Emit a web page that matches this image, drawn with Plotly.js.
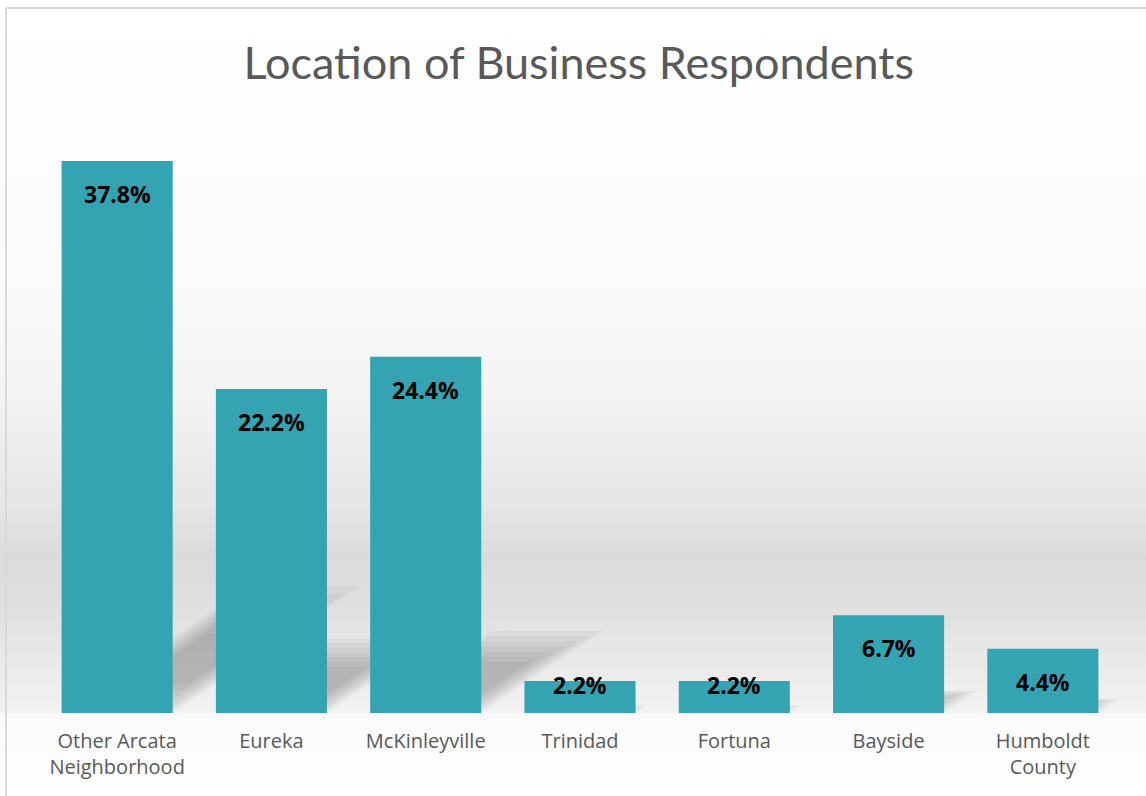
<!DOCTYPE html>
<html>
<head>
<meta charset="utf-8">
<script src="https://cdn.plot.ly/plotly-3.0.1.min.js"></script>
<style>
html,body{margin:0;padding:0;background:#fff;}
#chart{width:1146px;height:796px;}
</style>
</head>
<body>
<div id="chart"></div>
<script>
var categories = ["Other Arcata<br>Neighborhood", "Eureka", "McKinleyville", "Trinidad", "Fortuna", "Bayside", "Humboldt<br>County"];
var values = [37.8, 22.2, 24.4, 2.2, 2.2, 6.7, 4.4];
var labels = ["37.8%", "22.2%", "24.4%", "2.2%", "2.2%", "6.7%", "4.4%"];
var chartTitle = "Location of Business Respondents";

var positions = categories.map(function (c, i) { return i; });
var YMAX = 40;
var PLOT_H = 584, PLOT_W = 1080;
var pxPerUnit = PLOT_H / YMAX;
var pxPerCat = PLOT_W / categories.length;
var halfBar = 0.36;

var bgSvg = '<svg xmlns="http://www.w3.org/2000/svg" width="1146" height="796" preserveAspectRatio="none" viewBox="0 0 1146 796">' +
  '<defs><linearGradient id="g" x1="0" y1="0" x2="0" y2="1">' +
  '<stop offset="0" stop-color="#ffffff"/>' +
  '<stop offset="0.35" stop-color="#fbfbfb"/>' +
  '<stop offset="0.50" stop-color="#f3f3f3"/>' +
  '<stop offset="0.63" stop-color="#e6e6e6"/>' +
  '<stop offset="0.70" stop-color="#dbdbdb"/>' +
  '<stop offset="0.76" stop-color="#dfdfdf"/>' +
  '<stop offset="0.83" stop-color="#e9e9e9"/>' +
  '<stop offset="0.894" stop-color="#f2f2f2"/>' +
  '<stop offset="0.897" stop-color="#fafafa"/>' +
  '<stop offset="1" stop-color="#ffffff"/>' +
  '</linearGradient></defs>' +
  '<rect x="0" y="0" width="1146" height="796" fill="url(#g)"/></svg>';
var bgUri = 'data:image/svg+xml;charset=utf-8,' + encodeURIComponent(bgSvg);

var trace = {
  type: 'bar',
  x: positions,
  y: values,
  marker: {color: '#34a4b3', line: {width: 0}},
  hoverinfo: 'y'
};

// perspective shadows derived from each bar's value (soft edges via layered shapes)
var shapes = [];
values.forEach(function (v, i) {
  var dx = 0.34 * v * pxPerUnit / pxPerCat;
  var dy = 0.23 * v;
  for (var s = 0; s < 7; s++) {
    var k = s * 0.045;
    var ix = k * (halfBar * 2) * 0.9;
    var x0 = i - halfBar + ix, x1 = i + halfBar - ix;
    var t0 = Math.max(0, k - 0.05), t1 = 1 - k * 1.4;
    var p = 'M ' + (x0 + dx * t0) + ',' + (dy * t0) +
            ' L ' + (x1 + dx * t0) + ',' + (dy * t0) +
            ' L ' + (x1 + dx * t1) + ',' + (dy * t1) +
            ' L ' + (x0 + dx * t1) + ',' + (dy * t1) + ' Z';
    shapes.push({type: 'path', xref: 'x', yref: 'y', path: p, layer: 'below',
      fillcolor: 'rgba(0,0,0,0.036)', line: {width: 0}});
  }
});
shapes.push({type: 'line', xref: 'paper', yref: 'paper', x0: -34/1080, x1: 1 + 26/1080, y0: 1 + 121/584, y1: 1 + 121/584, line: {color: '#d9d9d9', width: 2}});
shapes.push({type: 'line', xref: 'paper', yref: 'paper', x0: -34/1080, x1: -34/1080, y0: -83/584, y1: 1 + 121/584, line: {color: '#d9d9d9', width: 2}});

// value labels: inside end; if the bar is too short they hug the bar top
var annotations = values.map(function (v, i) {
  var barPx = v * pxPerUnit;
  return {
    x: i, y: v, xref: 'x', yref: 'y', text: labels[i], showarrow: false,
    xanchor: 'center', yanchor: 'middle', yshift: barPx > 50 ? -33 : -4,
    font: {family: 'Open Sans, sans-serif', size: 23, color: '#000000', weight: 'bold'}
  };
});

var layout = {
  width: 1146,
  height: 796,
  margin: {l: 40, r: 26, t: 129, b: 83, pad: 0},
  paper_bgcolor: 'rgba(0,0,0,0)',
  plot_bgcolor: 'rgba(0,0,0,0)',
  bargap: 0.28,
  showlegend: false,
  title: {
    text: chartTitle,
    font: {family: 'Lato, sans-serif', size: 45, color: '#595959'},
    x: 0.505, xanchor: 'center',
    y: 0.92, yanchor: 'middle'
  },
  xaxis: {
    range: [-0.5, categories.length - 0.5],
    tickmode: 'array', tickvals: positions, ticktext: categories,
    showgrid: false, zeroline: false, showline: false, ticks: '',
    ticklabelstandoff: 14,
    tickfont: {family: 'Open Sans, sans-serif', size: 20, color: '#595959'},
    fixedrange: true
  },
  yaxis: {
    range: [0, YMAX], visible: false, showgrid: false, zeroline: false, fixedrange: true
  },
  images: [{
    source: bgUri, xref: 'paper', yref: 'paper',
    x: -40/1080, y: 1 + 129/584, sizex: 1146/1080, sizey: 796/584,
    xanchor: 'left', yanchor: 'top', sizing: 'stretch', layer: 'below'
  }],
  shapes: shapes,
  annotations: annotations
};

Plotly.newPlot('chart', [trace], layout, {displayModeBar: false, staticPlot: true});
</script>
</body>
</html>
